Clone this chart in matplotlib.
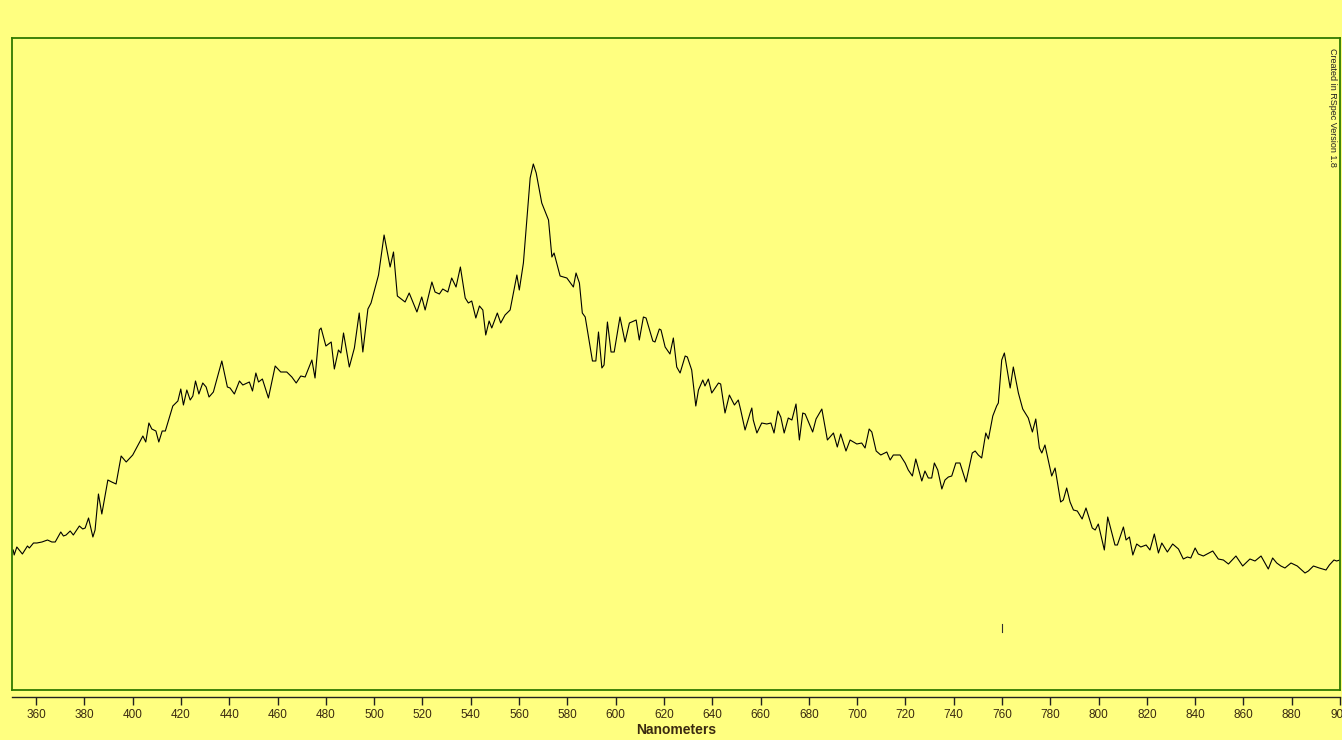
import matplotlib
matplotlib.use('Agg')
import matplotlib.pyplot as plt

# ─── 光谱数据（从图上读取，单位任意） ─────────────────────────────────────────
wavelength = [
    350.5, 350.9, 352.0, 354.3, 356.4, 357.2, 358.9, 360.3, 362.4, 364.7, 366.5, 367.9,
    370.2, 371.3, 372.4, 374.1, 375.4, 377.9, 379.3, 380.3, 381.7, 383.5, 384.4, 385.8,
    387.2, 389.7, 391.3, 393.1, 395.2, 397.3, 400.0, 404.2, 405.4, 406.7, 407.9, 409.6,
    410.8, 412.2, 413.5, 416.6, 418.7, 419.9, 421.0, 422.4, 423.8, 424.9, 426.0, 427.4,
    429.0, 430.4, 431.6, 433.4, 436.9, 439.2, 440.3, 442.1, 444.2, 445.6, 448.3, 449.6,
    451.0, 452.1, 453.7, 456.2, 459.0, 461.3, 463.8, 465.9, 467.7, 469.6, 471.4, 474.2,
    475.5, 477.3, 478.0, 480.0, 482.2, 483.5, 485.2, 486.2, 487.3, 489.7, 491.8, 493.8,
    495.3, 497.4, 498.7, 501.8, 504.1, 506.6, 508.0, 509.6, 512.8, 514.5, 517.7, 519.7,
    521.1, 523.9, 525.2, 527.0, 528.4, 530.5, 532.1, 533.9, 535.7, 537.7, 539.0, 540.4,
    542.1, 543.6, 545.0, 546.2, 547.6, 548.7, 551.0, 552.4, 554.2, 556.3, 559.1, 560.1,
    561.8, 564.6, 565.9, 567.1, 569.4, 572.2, 573.6, 574.5, 577.0, 579.8, 582.5, 583.6,
    585.0, 586.2, 587.4, 590.4, 591.8, 592.9, 594.3, 595.2, 596.6, 598.1, 599.4, 601.8,
    603.9, 605.7, 608.5, 609.8, 611.5, 612.6, 615.4, 616.3, 618.1, 618.8, 620.5, 622.5,
    623.9, 625.3, 626.7, 628.8, 629.7, 631.5, 633.2, 634.3, 636.1, 637.0, 638.4, 639.8,
    642.6, 643.5, 645.3, 647.1, 649.2, 650.8, 651.8, 653.6, 655.7, 656.4, 657.0, 658.5,
    660.5, 662.6, 664.3, 665.6, 667.2, 668.4, 669.8, 671.5, 673.0, 674.7, 676.1, 677.5,
    678.5, 681.6, 683.0, 685.4, 687.7, 690.2, 691.8, 693.2, 695.4, 697.1, 699.9, 701.9,
    703.3, 705.0, 706.1, 707.9, 709.8, 712.3, 713.7, 715.0, 717.8, 719.9, 721.2, 722.9,
    724.3, 726.8, 728.1, 729.5, 730.9, 732.0, 733.4, 735.1, 736.4, 737.8, 739.2, 740.9,
    742.6, 745.1, 747.7, 748.9, 750.2, 751.6, 753.3, 754.4, 756.2, 757.8, 758.5, 759.9,
    761.0, 763.4, 764.7, 766.8, 768.6, 770.9, 772.6, 774.0, 775.5, 776.5, 777.8, 780.6,
    782.0, 784.3, 785.4, 786.8, 788.2, 789.6, 791.2, 793.2, 794.8, 797.4, 798.6, 799.9,
    802.4, 803.8, 806.8, 807.8, 810.3, 811.4, 812.8, 814.2, 815.8, 817.5, 819.7, 821.3,
    823.1, 824.8, 826.2, 828.5, 830.7, 833.1, 835.1, 836.8, 838.2, 840.0, 841.3, 843.4,
    847.3, 849.6, 851.7, 853.8, 856.9, 859.7, 862.7, 864.8, 867.3, 870.3, 872.1, 873.8,
    875.5, 877.2, 879.7, 882.3, 885.5, 886.9, 889.0, 891.4, 894.2, 895.6, 897.5, 898.6,
    900.0,
]
intensity = [
    140, 135, 143, 136, 144, 142, 147, 147, 148, 150, 148, 148,
    158, 154, 155, 159, 155, 164, 161, 162, 172, 153, 160, 196,
    176, 210, 208, 206, 234, 228, 235, 254, 248, 267, 261, 259,
    248, 259, 259, 284, 289, 301, 285, 300, 290, 294, 309, 296,
    307, 303, 293, 298, 329, 303, 302, 296, 309, 305, 308, 299,
    317, 308, 311, 292, 324, 318, 318, 313, 307, 314, 313, 330,
    312, 360, 362, 344, 348, 321, 340, 337, 357, 323, 342, 377,
    338, 381, 387, 415, 455, 423, 438, 394, 388, 397, 378, 393,
    380, 408, 398, 396, 401, 398, 412, 403, 423, 392, 387, 389,
    372, 384, 380, 355, 369, 362, 377, 367, 375, 380, 415, 400,
    427, 512, 526, 517, 487, 470, 433, 437, 414, 412, 403, 417,
    407, 377, 373, 329, 329, 358, 322, 325, 368, 338, 338, 373,
    348, 367, 370, 350, 373, 372, 349, 348, 361, 360, 343, 336,
    352, 323, 317, 334, 333, 320, 284, 300, 310, 304, 311, 297,
    307, 306, 277, 295, 285, 290, 280, 260, 277, 282, 270, 257,
    267, 266, 267, 257, 279, 273, 257, 272, 270, 286, 250, 277,
    276, 258, 271, 281, 250, 257, 243, 256, 239, 250, 246, 247,
    242, 261, 258, 239, 235, 238, 230, 235, 235, 227, 220, 214,
    231, 209, 219, 212, 212, 227, 220, 201, 210, 213, 214, 227,
    227, 208, 237, 239, 235, 232, 257, 251, 274, 284, 287, 330,
    337, 302, 323, 297, 281, 272, 258, 271, 242, 237, 245, 214,
    222, 188, 190, 202, 188, 180, 179, 171, 182, 162, 160, 166,
    140, 173, 145, 145, 163, 150, 153, 135, 146, 143, 145, 140,
    156, 137, 147, 138, 146, 141, 131, 133, 132, 142, 136, 134,
    139, 131, 130, 126, 134, 124, 131, 129, 134, 121, 132, 127,
    124, 122, 127, 124, 117, 119, 124, 122, 120, 125, 130, 129,
    130,
]
marker_nm = 760.0
marker_lo, marker_hi = 58, 66

x_ticks = list(range(360, 901, 20))

BG = '#ffff80'
FRAME = '#2f7a00'
TEXT = '#3a2a10'

fig = plt.figure(figsize=(13.42, 7.40), dpi=100, facecolor=BG)
ax = fig.add_axes([12 / 1342, 50 / 740, 1328 / 1342, 652 / 740])
ax.set_facecolor(BG)

ax.plot(wavelength, intensity, color='black', linewidth=0.8)
ax.plot([marker_nm, marker_nm], [marker_lo, marker_hi], color='#303030', linewidth=0.8)

ax.set_xlim(350, 900)
ax.set_ylim(0, 652)
ax.set_xticks([])
ax.set_yticks([])
for sp in ax.spines.values():
    sp.set_color(FRAME)
    sp.set_linewidth(1.3)

# 下方独立刻度轴
sec = ax.secondary_xaxis(-0.0107)
sec.set_xticks(x_ticks)
sec.set_xticklabels([str(t) for t in x_ticks], fontsize=8.5, color=TEXT,
                    fontfamily='Liberation Sans')
sec.tick_params(axis='x', direction='out', length=6, width=1, color='#202020', pad=3)
sec.spines['bottom'].set_color('#202020')
sec.spines['bottom'].set_linewidth(1.0)
sec.set_xlabel('Nanometers', fontsize=10, fontweight='bold', color=TEXT,
               fontfamily='Liberation Sans', labelpad=1)

fig.text(1333 / 1342, 1 - 48 / 740, 'Created in RSpec Version 1.8', rotation=-90,
         ha='center', va='top', fontsize=6.5, color='#202020', fontfamily='Liberation Sans')

plt.savefig('out.png', dpi=100, facecolor=BG)
plt.close()
